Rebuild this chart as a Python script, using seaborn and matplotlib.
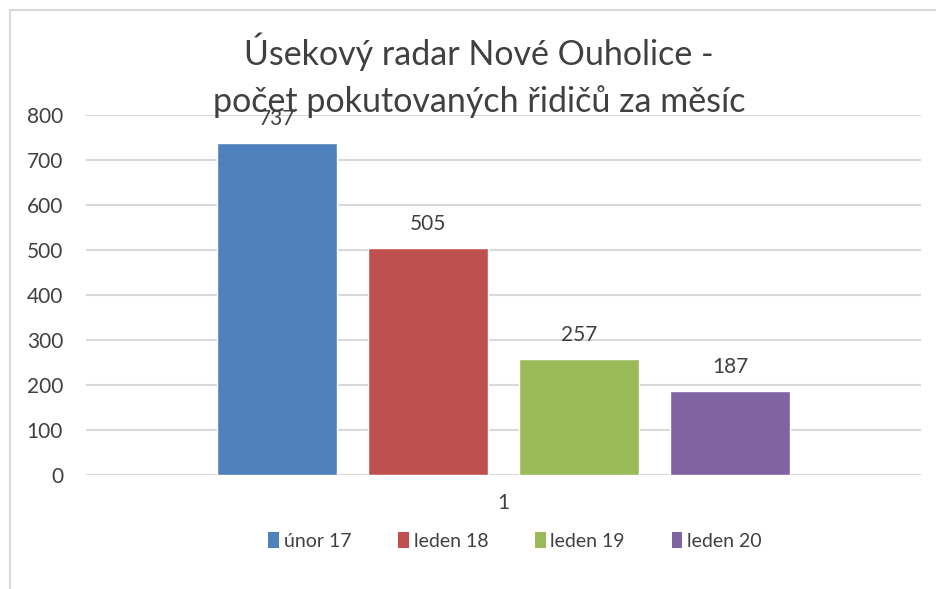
import matplotlib
matplotlib.use("Agg")
import matplotlib.pyplot as plt
import seaborn as sns
import pandas as pd
from matplotlib.lines import Line2D
from matplotlib.patches import Patch

categories = ["1"]
series = ["únor 17", "leden 18", "leden 19", "leden 20"]
values = [737, 505, 257, 187]
colors = ["#4F81BD", "#C0504D", "#9BBB59", "#8064A2"]
yticks = [0, 100, 200, 300, 400, 500, 600, 700, 800]
title_lines = ["Úsekový radar Nové Ouholice -", "počet pokutovaných řidičů za měsíc"]

sns.set_theme(style="white")
plt.rcParams['font.family'] = ['Lato', 'DejaVu Sans']

df = pd.DataFrame({"cat": categories * len(series), "series": series, "value": values})

fig = plt.figure(figsize=(9.36, 5.89), dpi=100)
ax = fig.add_axes([86/936, 114/589, (921-86)/936, (475-115)/589])

sns.barplot(data=df, x="cat", y="value", hue="series", hue_order=series,
            palette=colors, width=0.724, gap=0.205, saturation=1,
            ax=ax, legend=False)

ax.set_ylim(0, 800)
ax.set_xlim(-0.5, 0.5)
ax.set_yticks(yticks)
ax.set_yticklabels([str(t) for t in yticks])
ax.grid(axis="y", color="#D9D9D9", linewidth=1.5)
ax.set_axisbelow(True)
for s in ax.spines.values():
    s.set_visible(False)
ax.tick_params(axis="both", length=0, labelsize=15, colors="#404040")
ax.tick_params(axis="y", pad=16.5)
ax.tick_params(axis="x", pad=13)
ax.set_xlabel("")
ax.set_ylabel("")

for cont in ax.containers:
    ax.bar_label(cont, padding=10, fontsize=15, color="#404040")

fig.text(479/936, 1 - 65/589, title_lines[0], ha="center", va="baseline",
         fontsize=24.5, color="#404040")
fig.text(479/936, 1 - 112/589, title_lines[1], ha="center", va="baseline",
         fontsize=24.5, color="#404040")

handles = [Patch(facecolor=c, edgecolor="none") for c in colors]
fig.legend(handles, series, loc="center", bbox_to_anchor=(515/936, 1 - 541/589),
           ncol=4, frameon=False, fontsize=14, handlelength=0.55, handleheight=0.9,
           handletextpad=0.25, columnspacing=2.4, labelcolor="#404040")

fig.add_artist(Line2D([10/936, 1], [1 - 10/589, 1 - 10/589], transform=fig.transFigure,
                      color="#D9D9D9", linewidth=1.5))
fig.add_artist(Line2D([10/936, 10/936], [0, 1 - 10/589], transform=fig.transFigure,
                      color="#D9D9D9", linewidth=1.5))

fig.savefig("out.png", dpi=100, facecolor="white")
